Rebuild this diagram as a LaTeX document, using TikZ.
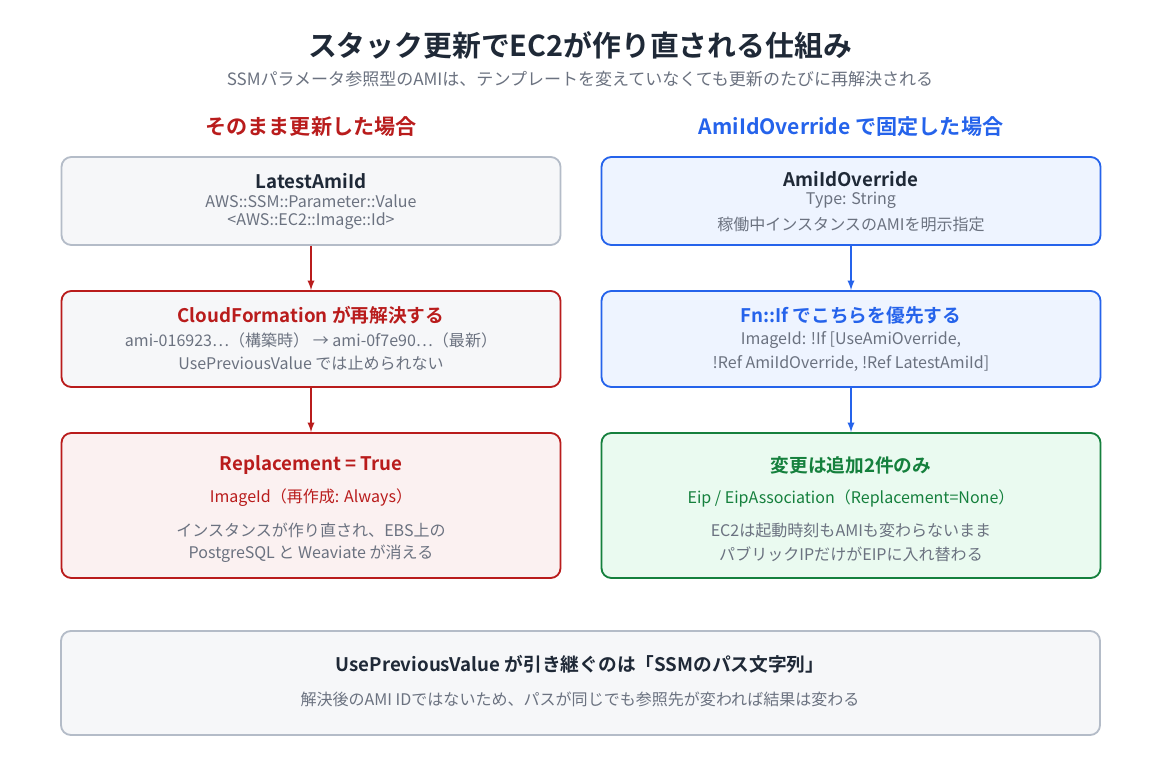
\documentclass[tikz,border=0pt]{standalone}
\usepackage{fontspec}
\setmainfont{Noto Sans CJK JP}[BoldFont={Noto Sans CJK JP Bold}]
\usetikzlibrary{positioning}
\definecolor{ink}{HTML}{1F2937}
\definecolor{mute}{HTML}{6B7280}
\definecolor{grayline}{HTML}{B4BCC8}
\definecolor{grayfill}{HTML}{F6F7F9}
\definecolor{redc}{HTML}{B91C1C}
\definecolor{redfill}{HTML}{FBF1F1}
\definecolor{bluec}{HTML}{2563EB}
\definecolor{bluefill}{HTML}{EEF4FF}
\definecolor{greenc}{HTML}{15803D}
\definecolor{greenfill}{HTML}{EAFAF0}
\tikzset{
  box/.style={draw, line width=1.3pt, rounded corners=7pt, minimum width=499\pxu, inner sep=0pt},
  hd/.style={font=\bfseries\fontsize{13.3}{15}\selectfont},
  tx/.style={font=\fontsize{11.4}{13}\selectfont, text=mute},
  arr/.style={-latex, line width=1.3pt},
}
\newlength{\pxu}\setlength{\pxu}{0.025cm}
\begin{document}
\begin{tikzpicture}[x=0.025cm, y=-0.025cm]
  \useasboundingbox[fill=white] (0,0) rectangle (1160,780);

  \node[font=\bfseries\fontsize{20.5}{22}\selectfont, text=ink] (title) at (580,45) {スタック更新でEC2が作り直される仕組み};
  \node[font=\fontsize{12.1}{14}\selectfont, text=mute] (sub) at (580,79) {SSMパラメータ参照型のAMIは、テンプレートを変えていなくても更新のたびに再解決される};
  \node[font=\bfseries\fontsize{15}{17}\selectfont, text=redc] (lhead) at (311,127) {そのまま更新した場合};
  \node[font=\bfseries\fontsize{15}{17}\selectfont, text=bluec] (rhead) at (851,127) {AmiIdOverride で固定した場合};

  % boxes
  \node[box, draw=grayline, fill=grayfill, minimum height=88\pxu] (lt) at (311,201) {};
  \node[box, draw=redc, fill=grayfill, minimum height=96\pxu] (lm) at (311,339) {};
  \node[box, draw=redc, fill=redfill, minimum height=145\pxu] (lb) at (311,505.5) {};
  \node[box, draw=bluec, fill=bluefill, minimum height=88\pxu] (rt) at (851,201) {};
  \node[box, draw=bluec, fill=bluefill, minimum height=96\pxu] (rm) at (851,339) {};
  \node[box, draw=greenc, fill=greenfill, minimum height=145\pxu] (rb) at (851,505.5) {};
  \node[box, draw=grayline, fill=grayfill, minimum width=1039\pxu, minimum height=104\pxu] (note) at (580.5,683) {};

  % left texts
  \node[hd, text=ink] (lt1) at (311,181) {LatestAmiId};
  \node[tx] (lt2) at (311,201) {AWS::SSM::Parameter::Value};
  \node[tx] (lt3) at (311,221) {<AWS::EC2::Image::Id>};
  \node[hd, text=redc] (lm1) at (311,315) {CloudFormation が再解決する};
  \node[tx] (lm2) at (311,340) {ami-016923…（構築時） → ami-0f7e90…（最新）};
  \node[tx] (lm3) at (311,363) {UsePreviousValue では止められない};
  \node[hd, text=redc] (lb1) at (311,465) {Replacement = True};
  \node[tx, text=redc] (lb2) at (311,498) {ImageId（再作成: Always）};
  \node[tx] (lb3) at (311,530) {インスタンスが作り直され、EBS上の};
  \node[tx] (lb4) at (311,554) {PostgreSQL と Weaviate が消える};

  % right texts
  \node[hd, text=ink] (rt1) at (851,179) {AmiIdOverride};
  \node[tx] (rt2) at (851,200) {Type: String};
  \node[tx] (rt3) at (851,224) {稼働中インスタンスのAMIを明示指定};
  \node[hd, text=bluec] (rm1) at (851,315) {Fn::If でこちらを優先する};
  \node[tx] (rm2) at (851,340) {ImageId: !If [UseAmiOverride,};
  \node[tx] (rm3) at (851,364) {!Ref AmiIdOverride, !Ref LatestAmiId]};
  \node[hd, text=greenc] (rb1) at (851,465) {変更は追加2件のみ};
  \node[tx, text=greenc] (rb2) at (851,498) {Eip / EipAssociation（Replacement=None）};
  \node[tx] (rb3) at (851,530) {EC2は起動時刻もAMIも変わらないまま};
  \node[tx] (rb4) at (851,554) {パブリックIPだけがEIPに入れ替わる};

  % note texts
  \node[hd, text=ink] (n1) at (580,664) {UsePreviousValue が引き継ぐのは「SSMのパス文字列」};
  \node[tx] (n2) at (580,699) {解決後のAMI IDではないため、パスが同じでも参照先が変われば結果は変わる};

  % arrows
  \draw[arr, redc] (lt.south) -- (lm.north);
  \draw[arr, redc] (lm.south) -- (lb.north);
  \draw[arr, bluec] (rt.south) -- (rm.north);
  \draw[arr, bluec] (rm.south) -- (rb.north);
\end{tikzpicture}
\end{document}
